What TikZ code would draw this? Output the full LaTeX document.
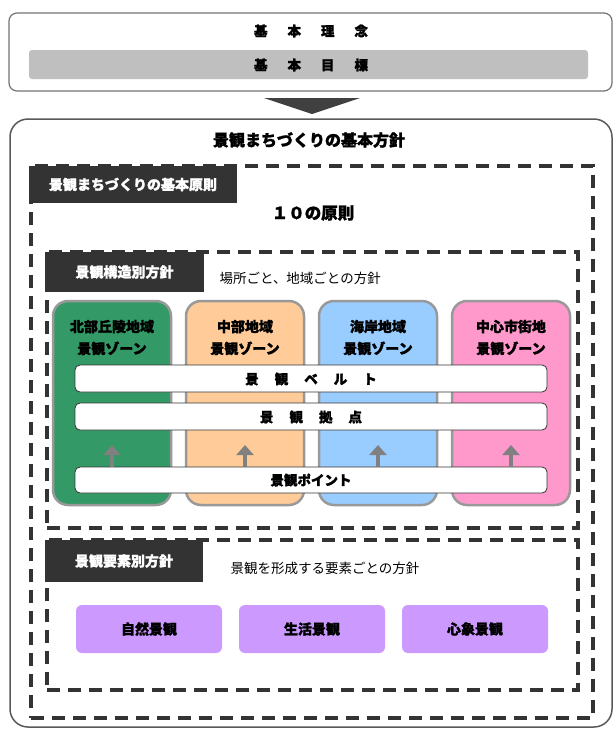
\documentclass[tikz,border=0pt]{standalone}
\usepackage{fontspec}
\setmainfont{Noto Sans CJK JP}[BoldFeatures={FakeBold=1.5}]
\usetikzlibrary{arrows.meta}
\definecolor{dark}{HTML}{333333}
\definecolor{zgreen}{HTML}{339966}
\definecolor{zorange}{HTML}{FFCC99}
\definecolor{zblue}{HTML}{99CCFF}
\definecolor{zpink}{HTML}{FF99CC}
\definecolor{zpurple}{HTML}{CC99FF}
\definecolor{zborder}{HTML}{999999}
\definecolor{garrow}{HTML}{808080}
\newcommand{\gpa}{\hspace{20pt}}
\newcommand{\gpb}{\hspace{16pt}}
\tikzset{
  rect/.style={anchor=north west, inner sep=0pt, outer sep=0pt},
  dashbox/.style={rect, draw=dark, line width=3.3pt, dash pattern=on 13pt off 8pt},
  darklabel/.style={rect, fill=dark, text=white, font=\fontsize{14}{16}\selectfont\bfseries},
  zone/.style={rect, draw=zborder, line width=2.5pt, rounded corners=15pt},
  bar/.style={rect, fill=white, draw=dark, line width=0.8pt, rounded corners=5pt},
  bold/.style={font=\fontsize{13.5}{15}\selectfont\bfseries},
  ztext/.style={font=\fontsize{14}{16}\selectfont\bfseries, align=center},
  plain/.style={anchor=west, font=\fontsize{13.5}{15}\selectfont},
  purple/.style={rect, fill=zpurple, rounded corners=6pt},
  uparrow/.style={draw=garrow, line width=4pt, -{Triangle[length=10pt,width=17pt]}},
}
\begin{document}
\begin{tikzpicture}[x=1pt,y=-1pt]
\useasboundingbox (0,0) rectangle (613,729);
% top box
\node[rect, draw=black!55, line width=1.2pt, rounded corners=8pt, minimum width=603pt, minimum height=78pt] (top) at (9,13) {};
\node[bold] (rinen) at (311,31) {基\gpa 本\gpa 理\gpa 念};
\node[rect, fill=black!25, rounded corners=3pt, minimum width=559pt, minimum height=29pt] (goalbar) at (29,50) {};
\node[bold] (goal) at (311,65) {基\gpa 本\gpa 目\gpa 標};
% down arrow
\fill[black!75] (264,98) -- (360,98) -- (312,114) -- cycle;
% main box
\node[rect, draw=black!65, line width=1.5pt, rounded corners=18pt, minimum width=602pt, minimum height=608pt] (main) at (10,119) {};
\node[font=\fontsize{16}{18}\selectfont\bfseries] (title) at (309,140) {景観まちづくりの基本方針};
% outer dashed
\node[dashbox, minimum width=562pt, minimum height=552pt] (outer) at (31,166) {};
\node[darklabel, minimum width=208pt, minimum height=37pt] (lab1) at (29,166) {景観まちづくりの基本原則};
\node[font=\fontsize{16.5}{18}\selectfont\bfseries] (ten) at (313,213) {１０の原則};
% inner dashed 1
\node[dashbox, minimum width=531pt, minimum height=276pt] (inner1) at (47,252) {};
\node[darklabel, minimum width=159pt, minimum height=40pt] (lab2) at (45,252) {景観構造別方針};
\node[plain] (basho) at (216,278) {場所ごと、地域ごとの方針};
% zones
\node[zone, fill=zgreen, minimum width=118pt, minimum height=204pt] (z1) at (53,301) {};
\node[zone, fill=zorange, minimum width=118pt, minimum height=204pt] (z2) at (186,301) {};
\node[zone, fill=zblue, minimum width=118pt, minimum height=204pt] (z3) at (319,301) {};
\node[zone, fill=zpink, minimum width=118pt, minimum height=204pt] (z4) at (452,301) {};
\node[ztext] (t1) at (z1.north |- 0,337.5) {北部丘陵地域\\[6pt]景観ゾーン};
\node[ztext] (t2) at (z2.north |- 0,337.5) {中部地域\\[6pt]景観ゾーン};
\node[ztext] (t3) at (z3.north |- 0,337.5) {海岸地域\\[6pt]景観ゾーン};
\node[ztext] (t4) at (z4.north |- 0,337.5) {中心市街地\\[6pt]景観ゾーン};
% bars
\node[bar, minimum width=472pt, minimum height=27pt] (belt) at (75,365) {};
\node[bold] (beltt) at (311,379) {景\gpb 観\gpb ベ\gpb ル\gpb ト};
\node[bar, minimum width=472pt, minimum height=27pt] (kyoten) at (75,403) {};
\node[bold] (kyotent) at (311,417) {景\gpb 観\gpb 拠\gpb 点};
\node[bar, minimum width=472pt, minimum height=26pt] (point) at (75,467) {};
\node[bold] (pointt) at (311,480) {景観ポイント};
% arrows
\foreach \i in {1,2,3,4}{
  \coordinate (a\i e) at (z\i.north |- 0,445);
  \draw[uparrow] (z\i.north |- point.north) -- (a\i e);
}
% inner dashed 2
\node[dashbox, minimum width=531pt, minimum height=150pt] (inner2) at (47,540) {};
\node[darklabel, minimum width=158pt, minimum height=42pt] (lab3) at (45,540) {景観要素別方針};
\node[plain] (youso) at (227,568) {景観を形成する要素ごとの方針};
\node[purple, minimum width=146pt, minimum height=48pt] (p1) at (76,605) {};
\node[purple, minimum width=146pt, minimum height=48pt] (p2) at (239,605) {};
\node[purple, minimum width=146pt, minimum height=48pt] (p3) at (402,605) {};
\node[ztext] (p1t) at (p1.center) {自然景観};
\node[ztext] (p2t) at (p2.center) {生活景観};
\node[ztext] (p3t) at (p3.center) {心象景観};
\end{tikzpicture}
\end{document}
